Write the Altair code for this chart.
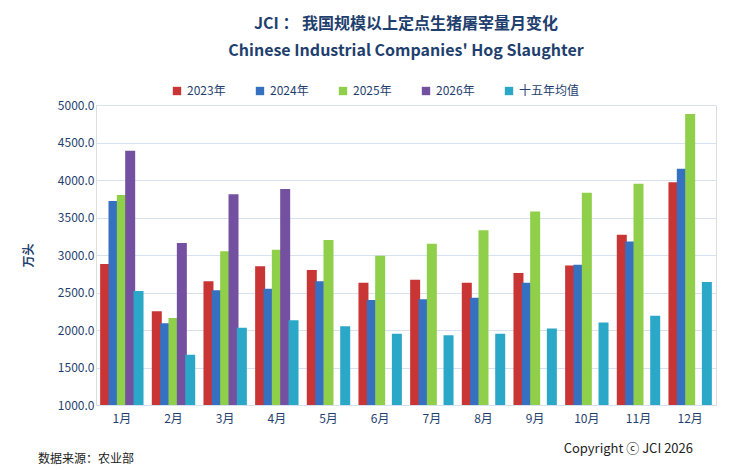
import altair as alt
import pandas as pd

months = ["1月", "2月", "3月", "4月", "5月", "6月", "7月", "8月", "9月", "10月", "11月", "12月"]
series = ["2023年", "2024年", "2025年", "2026年", "十五年均值"]
colors = ["#C93434", "#3670C0", "#8FCF4A", "#7450A0", "#2BA8C8"]

v2023 = [2880, 2250, 2650, 2850, 2800, 2630, 2670, 2630, 2760, 2860, 3270, 3970]
v2024 = [3720, 2090, 2530, 2550, 2650, 2400, 2410, 2430, 2630, 2870, 3180, 4150]
v2025 = [3800, 2160, 3050, 3070, 3200, 2990, 3150, 3330, 3580, 3830, 3950, 4880]
v2026 = [4390, 3160, 3810, 3880]
v_avg = [2520, 1670, 2030, 2130, 2050, 1950, 1930, 1950, 2020, 2100, 2190, 2640]

rows = []
for name, vals in zip(series, [v2023, v2024, v2025, v2026, v_avg]):
    for m, v in zip(months, vals):
        rows.append({"月": m, "系列": name, "值": v})
df = pd.DataFrame(rows)

NAVY = "#1F3F6E"
bars = alt.Chart(df).mark_bar(width=10, clip=True).encode(
    x=alt.X("月:N", sort=months, title=None,
            scale=alt.Scale(paddingInner=0.2, paddingOuter=0.1),
            axis=alt.Axis(labelAngle=0, labelColor=NAVY, labelFontSize=12, ticks=False,
                          domainColor="#D6E2F0", labelPadding=8)),
    xOffset=alt.XOffset("系列:N", sort=series, scale=alt.Scale(domain=series, paddingInner=0.05)),
    y=alt.Y("值:Q", title="万头",
            scale=alt.Scale(domain=[1000, 5000], zero=False, nice=False),
            axis=alt.Axis(format=".1f", values=list(range(1000, 5001, 500)),
                          labelColor=NAVY, labelFontSize=12, titleColor=NAVY, titleFontSize=12,
                          titlePadding=22, domain=False, ticks=False, gridColor="#D6E2F0")),
    color=alt.Color("系列:N", sort=series, scale=alt.Scale(domain=series, range=colors),
                    legend=alt.Legend(title=None, orient="none", direction="horizontal",
                                      legendX=75, legendY=-20,
                                      symbolType="square", symbolSize=70, labelFontSize=12,
                                      labelColor=NAVY, columnPadding=28)),
)

src = alt.Chart(pd.DataFrame({"t": ["数据来源：农业部"]})).mark_text(
    align="left", fontSize=12, color="#222222").encode(
    text="t:N", x=alt.value(-58), y=alt.value(354))
cr = alt.Chart(pd.DataFrame({"t": ["Copyright ⓒ JCI 2026"]})).mark_text(
    align="right", fontSize=13, color="#222222").encode(
    text="t:N", x=alt.value(597), y=alt.value(344))

chart = alt.layer(bars, src, cr).properties(
    width=620, height=300,
    title=alt.TitleParams(["JCI ： 我国规模以上定点生猪屠宰量月变化",
                           "Chinese Industrial Companies' Hog Slaughter"],
                          color=NAVY, fontSize=16, fontWeight="bold", lineHeight=27, offset=26),
    padding={"left": 14, "right": 20, "top": 8, "bottom": 10},
).configure_view(stroke=None).configure(font="Noto Sans CJK SC")

chart.save("out.html", embed_options={"renderer": "svg", "actions": False})
